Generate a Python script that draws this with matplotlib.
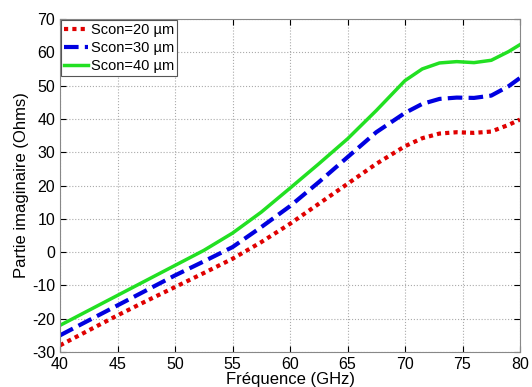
import matplotlib.pyplot as plt

# fréquence (GHz) et partie imaginaire (Ohms)
freq = [40, 42.5, 45, 47.5, 50, 52.5, 55, 57.5, 60, 62.5, 65, 67.5, 70, 71.5, 73, 74.5, 76, 77.5, 79, 80]
scon20 = [-28, -23.5, -19, -14.7, -10.5, -6.3, -2, 3, 8.5, 14.5, 20.5, 26.5, 31.8, 34.2, 35.6, 36.0, 35.8, 36.2, 38.2, 39.8]
scon30 = [-25, -20.5, -16, -11.5, -7, -2.8, 1.5, 7.5, 13.8, 21, 28.5, 36, 41.8, 44.5, 46.0, 46.4, 46.3, 47.0, 49.8, 52.3]
scon40 = [-22, -17.5, -13, -8.5, -4, 0.5, 5.7, 12, 19.2, 26.5, 34, 42.5, 51.5, 55.0, 56.8, 57.2, 56.9, 57.6, 60.2, 62.3]

xticks = [40, 45, 50, 55, 60, 65, 70, 75, 80]
yticks = [-30, -20, -10, 0, 10, 20, 30, 40, 50, 60, 70]

if __name__ == '__main__':
    plt.rcParams['font.family'] = ['Liberation Sans', 'DejaVu Sans']
    plt.rcParams['axes.unicode_minus'] = False
    fig = plt.figure(figsize=(5.32, 3.87), dpi=100)
    ax = fig.add_axes([60 / 532, 35 / 387, 460 / 532, 333 / 387])

    ax.plot(freq, scon20, color='#e00000', linestyle=(0, (1, 1)), linewidth=3, label='Scon=20 µm')
    ax.plot(freq, scon30, color='#0000e0', linestyle=(0, (3.5, 1.5)), linewidth=3, label='Scon=30 µm')
    ax.plot(freq, scon40, color='#22e022', linestyle='-', linewidth=2.5, label='Scon=40 µm')

    ax.set_xlim(40, 80)
    ax.set_ylim(-30, 70)
    ax.set_xticks(xticks)
    ax.set_yticks(yticks)
    ax.tick_params(direction='in', labelsize=11.5, top=True, right=True, length=4)
    ax.grid(True, linestyle=':', color='#aaaaaa', linewidth=0.8)
    for s in ax.spines.values():
        s.set_color('#888888')

    ax.set_xlabel('Fréquence (GHz)', fontsize=12, labelpad=0)
    ax.set_ylabel('Partie imaginaire (Ohms)', fontsize=12, labelpad=2)

    leg = ax.legend(loc='upper left', fontsize=10.5, fancybox=False, edgecolor='#555555',
                    borderaxespad=0.1, handlelength=1.6, handletextpad=0.2, borderpad=0.2,
                    labelspacing=0.25, framealpha=1)
    leg.get_frame().set_linewidth(0.8)

    fig.savefig('out.png', dpi=100)
